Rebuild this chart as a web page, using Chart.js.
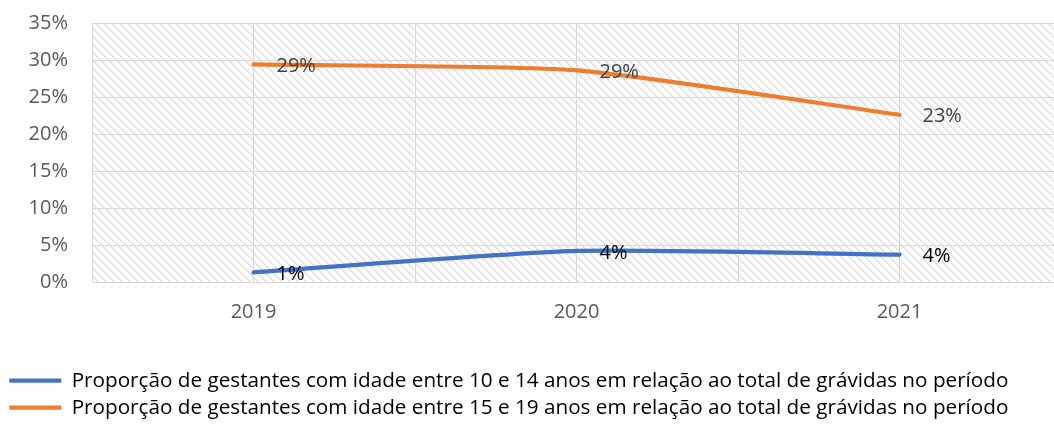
<!DOCTYPE html>
<html><head><meta charset="utf-8">
<script src="https://cdn.jsdelivr.net/npm/chart.js@4/dist/chart.umd.min.js"></script>
<style>html,body{margin:0;padding:0;background:#fff;overflow:hidden}
#wrap{width:1070px;height:434px;position:relative}</style>
</head><body><div id="wrap"><canvas id="c"></canvas></div>
<script>
const years = [2019, 2020, 2021];
const seriesNames = [
  'Proporção de gestantes com idade entre 10 e 14 anos em relação ao total de grávidas no período',
  'Proporção de gestantes com idade entre 15 e 19 anos em relação ao total de grávidas no período'
];
const values10to14 = [1.3, 4.2, 3.7];
const values15to19 = [29.4, 28.6, 22.6];
const yTickMax = 35;
const yTickStep = 5;

const FONT = "'Open Sans', 'DejaVu Sans', sans-serif";

function makePattern() {
  const p = document.createElement('canvas');
  p.width = 8; p.height = 8;
  const g = p.getContext('2d');
  g.fillStyle = '#ffffff';
  g.fillRect(0, 0, 8, 8);
  g.fillStyle = '#e0e0e0';
  for (let i = 0; i < 8; i++) { g.fillRect(i, i, 1, 1); g.fillRect((i + 1) % 8, i, 1, 1); }
  return p;
}

const hatchPlugin = {
  id: 'hatch',
  beforeDraw(chart) {
    const {ctx, chartArea: a} = chart;
    ctx.save();
    ctx.fillStyle = ctx.createPattern(makePattern(), 'repeat');
    ctx.fillRect(a.left, a.top, a.right - a.left, a.bottom - a.top);
    ctx.restore();
  }
};

const labelColors = ['#000000', '#404040'];
const dataLabelPlugin = {
  id: 'dlabels',
  afterDatasetsDraw(chart) {
    const ctx = chart.ctx;
    ctx.save();
    ctx.font = "20px " + FONT;
    ctx.textAlign = 'left';
    ctx.textBaseline = 'middle';
    chart.data.datasets.forEach((ds, di) => {
      const meta = chart.getDatasetMeta(di);
      ctx.fillStyle = labelColors[di];
      meta.data.forEach((pt, i) => {
        ctx.fillText(Math.round(ds.data[i].y) + '%', pt.x + 23, pt.y + 2);
      });
    });
    ctx.restore();
  }
};

const toPoints = vals => years.map((y, i) => ({x: y, y: vals[i]}));

new Chart(document.getElementById('c'), {
  type: 'line',
  data: {
    datasets: [
      {label: seriesNames[0], data: toPoints(values10to14), borderColor: '#4472C4', backgroundColor: '#4472C4',
       borderWidth: 4.2, pointRadius: 0, tension: 0.2, borderCapStyle: 'round'},
      {label: seriesNames[1], data: toPoints(values15to19), borderColor: '#ED7D31', backgroundColor: '#ED7D31',
       borderWidth: 4.2, pointRadius: 0, tension: 0.2, borderCapStyle: 'round'}
    ]
  },
  options: {
    responsive: true,
    maintainAspectRatio: false,
    animation: false,
    layout: {padding: {left: 3, right: 9, top: 23, bottom: 6}},
    plugins: {
      tooltip: {enabled: false},
      legend: {
        position: 'bottom',
        align: 'start',
        labels: {
          usePointStyle: true, pointStyle: 'line', pointStyleWidth: 52,
          padding: 6.3, color: '#000000', font: {family: FONT, size: 20.7}
        }
      }
    },
    scales: {
      x: {
        type: 'linear',
        min: years[0] - 0.5, max: years[years.length - 1] + 0.5,
        afterFit(s) { s.height = 82; s.paddingLeft = 0; s.paddingRight = 0; },
        afterBuildTicks(s) {
          const t = [];
          for (let v = years[0] - 0.5; v <= years[years.length - 1] + 0.5 + 1e-9; v += 0.5) t.push({value: v});
          s.ticks = t;
        },
        ticks: {
          color: '#595959', font: {family: FONT, size: 20}, padding: 18, maxRotation: 0, autoSkip: false,
          callback: v => (Number.isInteger(v) && years.includes(v)) ? String(v) : ''
        },
        grid: {color: '#d9d9d9', lineWidth: 1, drawTicks: false},
        border: {color: '#d9d9d9'}
      },
      y: {
        min: 0, max: yTickMax,
        afterFit(s) { s.width = 89; s.paddingTop = 0; s.paddingBottom = 0; },
        ticks: {
          stepSize: yTickStep, color: '#595959', font: {family: FONT, size: 20}, padding: 24,
          callback: v => v + '%'
        },
        grid: {color: '#d9d9d9', lineWidth: 1, drawTicks: false},
        border: {color: '#d9d9d9'}
      }
    }
  },
  plugins: [hatchPlugin, dataLabelPlugin]
});
</script></body></html>
